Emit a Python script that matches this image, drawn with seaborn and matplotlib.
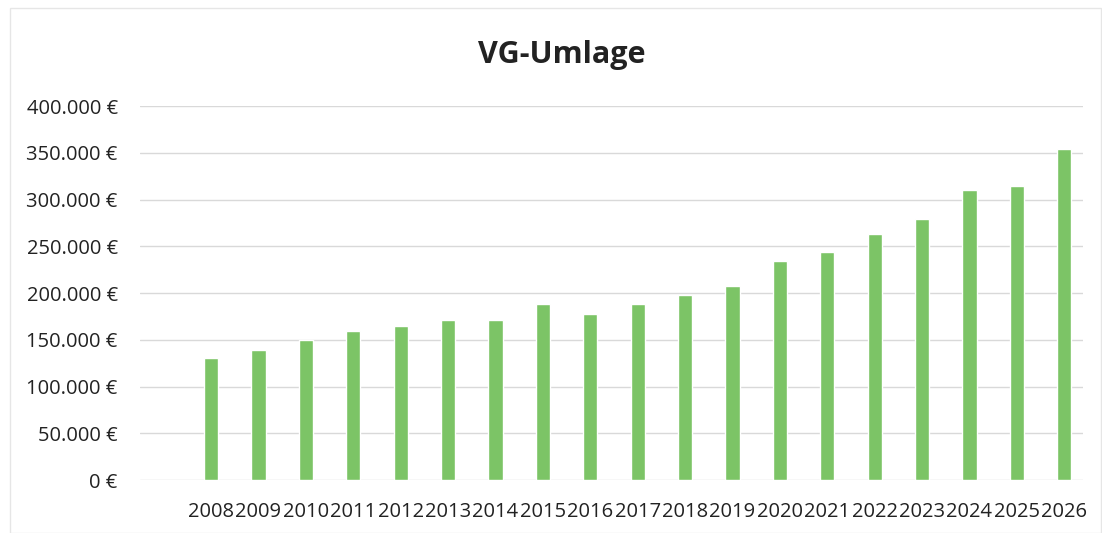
import matplotlib
matplotlib.use("Agg")
import matplotlib.pyplot as plt
import matplotlib.ticker as mticker
import seaborn as sns
import pandas as pd

years = [str(y) for y in range(2008, 2027)]
umlage = [130000, 139000, 150000, 159500, 165000, 171500, 171000, 188500,
          178000, 188000, 197500, 207000, 234000, 244000, 263000, 279000,
          310000, 314500, 354000]
y_ticks = [0, 50000, 100000, 150000, 200000, 250000, 300000, 350000, 400000]

df = pd.DataFrame({"Jahr": years, "Umlage": umlage})

sns.set_style("white")
plt.rcParams["font.family"] = ["Open Sans", "DejaVu Sans"]

fig = plt.figure(figsize=(11.02, 5.33), dpi=100)
ax = fig.add_axes([0.127, 0.0994, 0.856, 0.7017])

sns.barplot(data=df, x="Jahr", y="Umlage", color="#7cc466", saturation=1,
            width=0.3, ax=ax)

ax.set_ylim(0, 400000)
ax.set_xlim(-1.5, 18.4)
ax.set_yticks(y_ticks)
ax.yaxis.set_major_formatter(mticker.FuncFormatter(
    lambda v, p: f"{int(v):,}".replace(",", ".") + " €"))
ax.grid(axis="y", color="#d9d9d9", linewidth=1)
ax.set_axisbelow(True)
for s in ax.spines.values():
    s.set_visible(False)
ax.tick_params(axis="both", length=0, labelsize=14.5, colors="#222222")
ax.tick_params(axis="y", pad=16)
ax.tick_params(axis="x", pad=16)
ax.set_xlabel("")
ax.set_ylabel("")

fig.text(0.51, 0.897, "VG-Umlage", ha="center", va="center",
         fontsize=22, fontweight="bold", color="#222222")

# faint frame of the chart area
fig.add_artist(plt.Rectangle((0.009, 0.0), 0.99, 0.985, transform=fig.transFigure,
                             fill=False, edgecolor="#e6e6e6", linewidth=1))

fig.savefig("out.png", dpi=100, facecolor="white")
